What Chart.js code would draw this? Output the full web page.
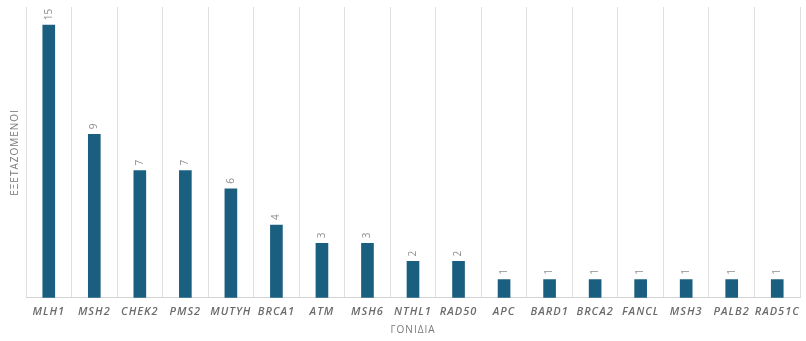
<!DOCTYPE html>
<html><head><meta charset="utf-8">
<script src="https://cdn.jsdelivr.net/npm/chart.js@4/dist/chart.umd.min.js"></script>
<style>html,body{margin:0;padding:0;background:#fff}#wrap{width:806px;height:341px}</style>
</head><body><div id="wrap"><canvas id="c" width="806" height="341"></canvas></div>
<script>
const genes = ["MLH1","MSH2","CHEK2","PMS2","MUTYH","BRCA1","ATM","MSH6","NTHL1","RAD50","APC","BARD1","BRCA2","FANCL","MSH3","PALB2","RAD51C"];
const examined = [15,9,7,7,6,4,3,3,2,2,1,1,1,1,1,1,1];
const xTitle = "ΓΟΝΙΔΙΑ";
const yTitle = "ΕΞΕΤΑΖΟΜΕΝΟΙ";

const spacingPlugin = {
  id: 'spacing',
  beforeDraw(chart) { chart.ctx.letterSpacing = '1px'; },
  afterDraw(chart) { chart.ctx.letterSpacing = '0px'; }
};

const labelPlugin = {
  id: 'vlabels',
  afterDatasetsDraw(chart) {
    const ctx = chart.ctx;
    const meta = chart.getDatasetMeta(0);
    ctx.save();
    ctx.letterSpacing = '0px';
    ctx.fillStyle = '#8e8e8e';
    ctx.font = '10px "Open Sans", sans-serif';
    ctx.textAlign = 'left';
    ctx.textBaseline = 'middle';
    meta.data.forEach((bar, i) => {
      ctx.save();
      ctx.translate(bar.x, bar.y - 5);
      ctx.rotate(-Math.PI / 2);
      ctx.fillText(String(examined[i]), 0, 0);
      ctx.restore();
    });
    ctx.restore();
  }
};

new Chart(document.getElementById('c'), {
  type: 'bar',
  data: { labels: genes, datasets: [{ data: examined, backgroundColor: '#1b5f80', barThickness: 12 }] },
  options: {
    responsive: false,
    animation: false,
    layout: { padding: { top: 7, right: 6, left: 9, bottom: 5 } },
    plugins: { legend: { display: false }, tooltip: { enabled: false } },
    scales: {
      x: {
        grid: { display: true, color: '#e0e0e0', offset: true, drawTicks: false },
        border: { color: '#d4d4d4' },
        ticks: { color: '#6b6b6b', font: { family: '"Open Sans", sans-serif', size: 11, style: 'italic', weight: '600' }, maxRotation: 0, autoSkip: false, padding: 7 },
        title: { display: true, text: xTitle, color: '#7a7a7a', font: { family: '"Open Sans", sans-serif', size: 10 }, padding: { top: -1, bottom: 0 } }
      },
      y: {
        min: 0, max: 16,
        grid: { display: false },
        border: { display: false },
        ticks: { display: false },
        title: { display: true, text: yTitle, color: '#7a7a7a', font: { family: '"Open Sans", sans-serif', size: 10 }, padding: { top: 0, bottom: -3 } }
      }
    }
  },
  plugins: [spacingPlugin, labelPlugin]
});
</script></body></html>
